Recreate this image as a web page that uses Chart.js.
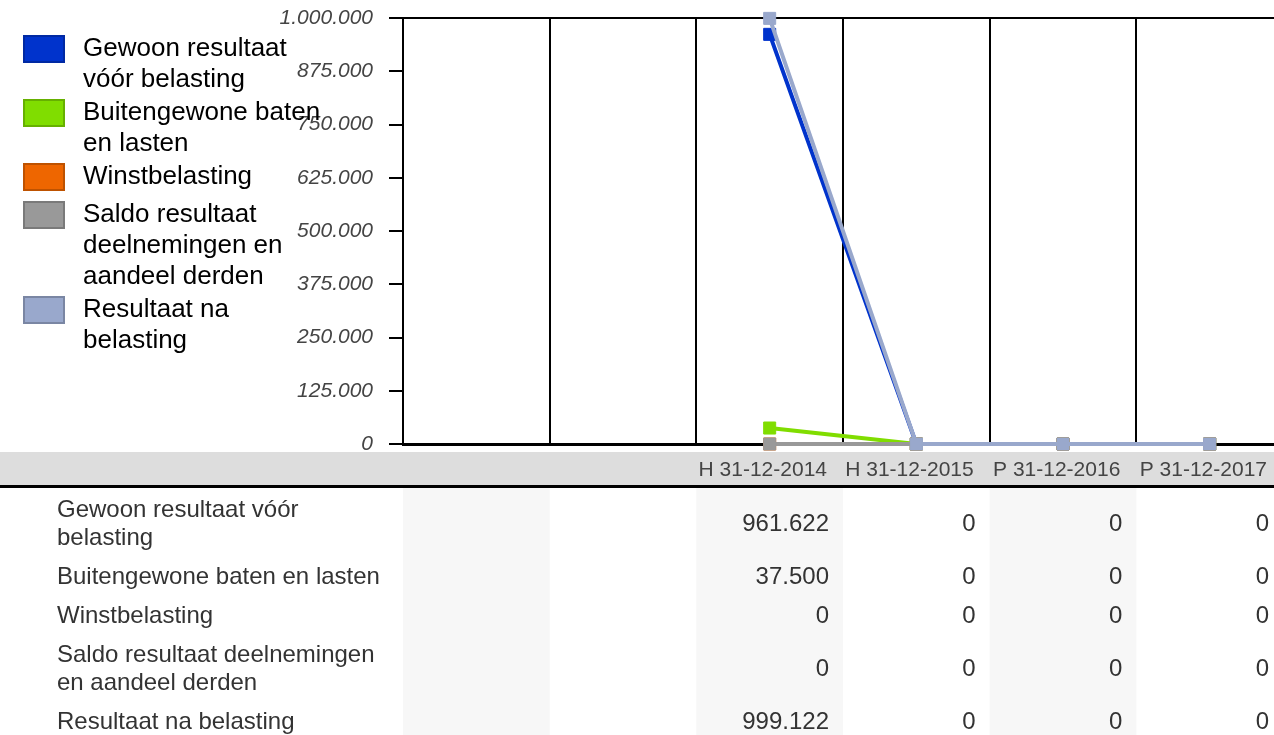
<!DOCTYPE html>
<html>
<head>
<meta charset="utf-8">
<script src="https://cdn.jsdelivr.net/npm/chart.js@4.4.0/dist/chart.umd.min.js"></script>
<style>
    html, body { margin: 0; padding: 0; overflow: hidden; background: #fff; }
    #wrap { position: relative; width: 1283px; height: 735px; }
    #chart { display: block; }
</style>
</head>
<body>
<div id="wrap"><canvas id="chart" width="1283" height="735"></canvas></div>
<script>
// Data
const categories = ['', '', 'H 31-12-2014', 'H 31-12-2015', 'P 31-12-2016', 'P 31-12-2017'];
const seriesLabels = [
    'Gewoon resultaat vóór belasting',
    'Buitengewone baten en lasten',
    'Winstbelasting',
    'Saldo resultaat deelnemingen en aandeel derden',
    'Resultaat na belasting'
];
const gewoonResultaat = [null, null, 961622, 0, 0, 0];
const buitengewoneBaten = [null, null, 37500, 0, 0, 0];
const winstbelasting = [null, null, 0, 0, 0, 0];
const saldoDeelnemingen = [null, null, 0, 0, 0, 0];
const resultaatNaBelasting = [null, null, 999122, 0, 0, 0];
const yTickValues = [0, 125000, 250000, 375000, 500000, 625000, 750000, 875000, 1000000];

const seriesColors = ['#0033cc', '#80dd00', '#ee6600', '#999999', '#99a8cc'];
const legendBorders = ['#0029a3', '#66b000', '#be5200', '#7a7a7a', '#7a86a3'];
const FONT = '"Liberation Sans", Arial, sans-serif';

// 1234567 -> 1.234.567
const fmt = v => String(v).replace(/\B(?=(\d{3})+(?!\d))/g, '.');

const wrapText = (ctx, text, maxWidth) => {
    const lines = [];
    let line = '';
    text.split(' ').forEach(word => {
        const test = line ? line + ' ' + word : word;
        if (line && ctx.measureText(test).width > maxWidth) {
            lines.push(line);
            line = word;
        } else {
            line = test;
        }
    });
    if (line) lines.push(line);
    return lines;
};

// Legend at the left and data table under the plot
const tablePlugin = {
    id: 'dataTable',
    afterDraw(chart) {
        const ctx = chart.ctx;
        const x = chart.scales.x;
        const half = (x.getPixelForValue(1) - x.getPixelForValue(0)) / 2;
        const W = chart.width;
        ctx.save();

        // shaded columns
        ctx.fillStyle = '#f7f7f7';
        categories.forEach((c, i) => {
            if (i % 2 === 0) ctx.fillRect(x.getPixelForValue(i) - half, 488, half * 2, chart.height - 488);
        });

        // header band
        ctx.fillStyle = '#dddddd';
        ctx.fillRect(0, 452, W, 33);
        ctx.fillStyle = '#000';
        ctx.fillRect(0, 485, W, 3);
        ctx.font = '21px ' + FONT;
        ctx.fillStyle = '#444';
        ctx.textAlign = 'right';
        ctx.textBaseline = 'middle';
        categories.forEach((c, i) => ctx.fillText(c, x.getPixelForValue(i) + half - 16, 470));

        // rows
        ctx.font = '24px ' + FONT;
        let top = 491;
        chart.data.datasets.forEach(ds => {
            const lines = wrapText(ctx, ds.label, 330);
            const h = 39 + 28 * (lines.length - 1);
            const mid = top + h / 2;
            ctx.fillStyle = '#333';
            ctx.textAlign = 'left';
            lines.forEach((l, k) => ctx.fillText(l, 57, mid - 14 * (lines.length - 1) + 28 * k));
            ctx.textAlign = 'right';
            ds.data.forEach((v, i) => {
                if (v !== null) ctx.fillText(fmt(v), x.getPixelForValue(i) + half - 14, mid);
            });
            top += h;
        });

        // legend
        ctx.font = '26px ' + FONT;
        ctx.textAlign = 'left';
        let ly = 49;
        chart.data.datasets.forEach((ds, i) => {
            const lines = wrapText(ctx, ds.label, 247);
            ctx.fillStyle = seriesColors[i];
            ctx.fillRect(23, ly - 14, 42, 28);
            ctx.strokeStyle = legendBorders[i];
            ctx.lineWidth = 2;
            ctx.strokeRect(24, ly - 13, 40, 26);
            ctx.fillStyle = '#000';
            lines.forEach((l, k) => ctx.fillText(l, 83, ly + 31 * k));
            ly += Math.max(38, 31 * lines.length + 2);
        });

        ctx.restore();
    }
};

const seriesData = [gewoonResultaat, buitengewoneBaten, winstbelasting, saldoDeelnemingen, resultaatNaBelasting];

const datasets = seriesData.map((data, i) => ({
    label: seriesLabels[i],
    data: data,
    borderColor: seriesColors[i],
    backgroundColor: seriesColors[i],
    borderWidth: 4,
    pointStyle: 'rect',
    pointRadius: 8.5,
    pointBorderWidth: 1,
    pointBackgroundColor: seriesColors[i],
    pointBorderColor: seriesColors[i],
    order: seriesData.length - 1 - i,
    clip: false,
    spanGaps: false
}));

new Chart(document.getElementById('chart'), {
    type: 'line',
    data: { labels: categories, datasets: datasets },
    options: {
        responsive: false,
        maintainAspectRatio: false,
        animation: false,
        events: [],
        layout: { autoPadding: false, padding: { top: 18, bottom: 291, left: 0, right: 0 } },
        plugins: {
            legend: { display: false },
            tooltip: { enabled: false }
        },
        scales: {
            x: {
                offset: true,
                ticks: { display: false },
                grid: { offset: true, color: '#000', lineWidth: 2, drawTicks: false },
                border: { color: '#000', width: 3 },
                afterFit: s => { s.height = 0; s.paddingLeft = 0; s.paddingRight = 0; }
            },
            y: {
                min: 0,
                max: 1000000,
                afterBuildTicks: s => { s.ticks = yTickValues.map(v => ({ value: v })); },
                afterFit: s => { s.width = 403; s.paddingTop = 0; s.paddingBottom = 0; },
                ticks: {
                    padding: 16,
                    color: '#444',
                    font: { family: FONT, size: 21, style: 'italic' },
                    callback: v => fmt(v)
                },
                grid: {
                    color: c => (c.tick && c.tick.value === 1000000 ? '#000' : 'transparent'),
                    lineWidth: 2,
                    tickColor: '#000',
                    tickLength: 14,
                    tickWidth: 2
                },
                border: { color: '#000', width: 2 }
            }
        }
    },
    plugins: [tablePlugin]
});
</script>
</body>
</html>
